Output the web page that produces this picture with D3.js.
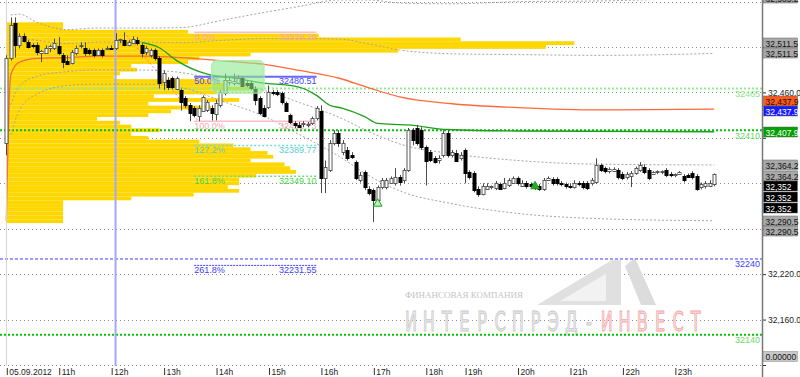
<!DOCTYPE html>
<html>
<head>
<meta charset="utf-8">
<title>Si 5 min, 05.09.2012</title>
<script src="https://cdn.jsdelivr.net/npm/d3@7/dist/d3.min.js"></script>
<style>
  body { margin: 0; background: #fff; }
  svg { display: block; font-family: "Liberation Sans", Arial, sans-serif; }
</style>
</head>
<body>
<svg id="chart" width="800" height="377"></svg>
<script>
// 5-minute bars, index 0 = 10:00 (evening clearing 18:45-19:00 has no bars)
const hourIdx = [0, 12, 24, 36, 48, 60, 72, 84, 96, 105, 117, 129, 141, 153];
const hourLabels = ['05.09.2012', '11h', '12h', '13h', '14h', '15h', '16h', '17h', '18h', '19h', '20h', '21h', '22h', '23h'];

const open = [32394,32506,32551,32522,32535,32526,32522,32522,32512,32513,
  32519,32518,32521,32509,32502,32498,32512,32522,32519,32516,
  32516,32509,32516,32517,32519,32518,32529,32529,32522,32526,
  32529,32522,32513,32509,32516,32505,32473,32476,32479,32465,
  32463,32452,32443,32439,32430,32436,32436,32440,32432,32443,
  32459,32473,32473,32473,32479,32472,32472,32465,32452,32440,
  32440,32460,32460,32459,32446,32430,32419,32417,32418,32417,
  32419,32426,32436,32347,32357,32393,32406,32381,32384,32377,
  32368,32344,32355,32333,32331,32318,32335,32335,32341,32340,
  32348,32344,32357,32410,32413,32410,32388,32381,32373,32370,
  32377,32406,32377,32380,32373,32384,32355,32353,32333,32327,
  32333,32335,32333,32339,32335,32337,32341,32347,32337,32340,
  32339,32336,32336,32332,32345,32345,32345,32340,32339,32337,
  32336,32340,32340,32340,32340,32341,32364,32360,32357,32357,
  32357,32352,32348,32349,32353,32357,32362,32357,32353,32355,
  32355,32357,32352,32351,32353,32349,32351,32353,32349,32335,
  32336,32337,32339];
const high = [32509,32559,32559,32538,32538,32529,32525,32526,32516,32522,
  32523,32531,32533,32512,32509,32516,32522,32526,32526,32518,
  32518,32518,32518,32521,32522,32538,32531,32539,32529,32534,
  32533,32525,32521,32518,32518,32508,32489,32480,32481,32481,
  32465,32455,32446,32442,32443,32456,32450,32443,32450,32463,
  32485,32479,32485,32483,32481,32475,32475,32468,32455,32443,
  32469,32463,32463,32461,32448,32432,32422,32421,32422,32421,
  32428,32442,32443,32370,32397,32410,32410,32397,32388,32381,
  32370,32355,32357,32336,32333,32337,32347,32347,32349,32360,
  32351,32360,32413,32413,32417,32414,32390,32384,32376,32377,
  32410,32410,32384,32384,32381,32386,32357,32356,32336,32340,
  32340,32337,32343,32341,32347,32347,32349,32349,32344,32343,
  32341,32339,32339,32347,32349,32348,32348,32343,32341,32340,
  32344,32343,32343,32343,32347,32373,32366,32362,32361,32361,
  32360,32355,32355,32356,32362,32368,32365,32360,32356,32357,
  32357,32360,32355,32353,32356,32352,32353,32356,32352,32341,
  32343,32344,32353];
const low = [32377,32502,32506,32518,32526,32518,32518,32509,32500,32512,
  32513,32516,32509,32492,32496,32497,32509,32518,32508,32509,
  32506,32508,32506,32516,32516,32516,32525,32521,32521,32525,
  32522,32506,32509,32506,32502,32465,32463,32463,32464,32463,
  32436,32439,32422,32427,32422,32434,32434,32423,32423,32440,
  32456,32469,32469,32471,32467,32467,32463,32443,32430,32427,
  32438,32456,32455,32444,32434,32418,32413,32413,32414,32414,
  32417,32423,32327,32327,32355,32390,32388,32377,32370,32372,
  32344,32341,32331,32324,32289,32315,32332,32332,32339,32337,
  32337,32340,32355,32390,32390,32384,32337,32368,32366,32366,
  32374,32374,32374,32368,32370,32340,32345,32328,32322,32324,
  32331,32332,32331,32331,32332,32335,32339,32337,32335,32333,
  32333,32331,32330,32330,32343,32337,32337,32336,32333,32333,
  32333,32336,32332,32331,32337,32339,32355,32353,32353,32355,
  32345,32344,32345,32335,32351,32355,32352,32344,32351,32352,
  32352,32348,32348,32348,32351,32341,32347,32345,32330,32332,
  32333,32335,32336];
const close = [32506,32549,32522,32534,32529,32519,32521,32513,32514,32519,
  32521,32525,32512,32500,32498,32513,32519,32523,32512,32512,
  32509,32516,32509,32518,32518,32529,32530,32522,32526,32531,
  32525,32512,32518,32516,32506,32472,32485,32467,32467,32479,
  32447,32443,32432,32430,32440,32454,32447,32434,32446,32460,
  32476,32476,32475,32479,32469,32469,32465,32450,32432,32430,
  32460,32459,32457,32447,32436,32421,32417,32415,32419,32418,
  32426,32439,32347,32361,32393,32406,32393,32393,32374,32374,
  32347,32351,32335,32328,32318,32335,32344,32344,32347,32348,
  32341,32357,32410,32397,32393,32388,32370,32370,32368,32373,
  32406,32377,32381,32370,32377,32353,32348,32331,32327,32337,
  32337,32336,32340,32333,32341,32344,32347,32340,32341,32336,
  32336,32333,32332,32344,32347,32340,32340,32339,32336,32336,
  32341,32339,32335,32333,32344,32364,32357,32356,32359,32359,
  32348,32347,32352,32353,32360,32364,32355,32347,32355,32356,
  32356,32351,32351,32352,32355,32344,32349,32348,32332,32339,
  32340,32341,32352];

// volume profile, 5-point rows (centre price) and relative volume
const profilePrice = d3.range(32550, 32285, -5);
const profileVol = [10,10,32,55,80,100,95,69,43,34,
  32,22,23,20,19,36,39,43,37,26,
  41,25,36,29,25,16,20,22,27,22,
  25,34,40,43,46,47,43,49,50,51,
  44,41,41,39,41,33,22,10,10,10,
  10,10,10];

// VWAP and its deviation bands
const vwapIdx = [0,1,3,7,14,21,31,40,49,59,67,76,83,90,102,117,136,162];
const vwapVal = [32290,32483,32500,32505,32506,32508,32508,32506,32502,32497,32489,32479,32466,32454,32445,32440,32437,32438];
const bandIdx = [1,3,7,14,21,31,40,49,59,67,76,83,90,102,117,136,162];
const bandUp1 = [32522.6,32531.7,32528.7,32524.5,32526.5,32526.5,32525.8,32528.4,32531.3,32531.2,32530.5,32524,32516,32511,32509.9,32508.9,32511.5];
const bandDn1 = [32443.4,32468.3,32481.3,32487.5,32489.5,32489.5,32486.2,32475.6,32462.7,32446.8,32427.5,32408,32392,32379,32370.1,32365.1,32364.2];
const bandUp2 = [32562.2,32563.4,32552.4,32543,32545,32545,32545.6,32554.8,32565.6,32573.4,32582,32582,32578,32577,32579.8,32580.8,32585.2];
const bandDn2 = [32403.8,32436.6,32457.6,32469,32471,32471,32466.4,32449.2,32428.4,32404.6,32376,32350,32330,32313,32300.2,32293.2,32290.5];

// moving average
const maIdx = [31,35,39,46,52,58,67,71,74,77,82,85,92,101,117,162];
const maVal = [32526,32519,32502,32484,32479,32473,32467,32456,32443,32439,32428,32419,32417,32411,32409,32408];

// fibonacci retracement
const fibLabels = ['0.0%', '50.0%', '100.0%', '127.2%', '161.8%', '261.8%'];
const fibValues = [32539.29, 32480.51, 32421.73, 32389.77, 32349.10, 32231.55];
const fibFrom = 43, fibTo = 71;
const fibTrendIdx = [27, 44];

// horizontal levels
const levelVals = [32465, 32410, 32240, 32140];

// grid
const gridVals = d3.range(32100, 32581, 60);

// right side tags
const tagVals = [32585.2, 32511.5, 32511.5, 32437.9, 32437.9, 32407.9, 32364.2, 32364.2, 32352, 32352, 32352, 32290.5, 32290.5];
const tagText = ['32,585.2','32,511.5','32,511.5','32,437.9','32,437.9','32,407.9','32,364.2','32,364.2','32,352','32,352','32,352','32,290.5','32,290.5'];

// drawn objects
const boxIdx = [47, 59];
const boxPrice = [32502, 32459];
const markerIdx = [85, 121];
const markerPrice = [32313, 32336];
const markIdx = 25;

const W = 800, H = 377;
const plotRight = 762, plotBottom = 366;

const svg = d3.select('#chart');
svg.append('rect').attr('width', W).attr('height', H).attr('fill', '#fff');

const x = d3.scaleLinear().domain([0, 162]).range([6.3, 714.2]);
const y = d3.scaleLinear().domain([32100, 32582]).range([365, 0]);
const vol = d3.scaleLinear().domain([0, 100]).range([0, 568]);

svg.append('defs').append('clipPath').attr('id', 'plot')
  .append('rect').attr('width', plotRight).attr('height', plotBottom);

const plot = svg.append('g').attr('clip-path', 'url(#plot)');
const py = v => Math.round(y(v)) + 0.5;

// grid lines
plot.selectAll('.grid')
  .data(gridVals)
  .enter()
  .append('line')
  .attr('x1', 0).attr('x2', plotRight)
  .attr('y1', d => py(d)).attr('y2', d => py(d))
  .attr('stroke', '#8c8c8c')
  .attr('stroke-dasharray', '1,3');

// watermark
const wm = plot.append('g');
wm.append('polygon').attr('points', '537,305 612,260 621,260 621,305').attr('fill', '#e0e0e0');
wm.append('polygon').attr('points', '560,301 606,274 606,301').attr('fill', '#f2f2f2');
wm.append('polygon').attr('points', '625,266 635,258 656,305 641,305').attr('fill', '#dcdcdc');
wm.append('text').attr('x', 405).attr('y', 298)
  .attr('font-family', '"Liberation Serif", serif').attr('font-size', 9)
  .attr('fill', '#c4c4c4').attr('textLength', 118).text('ФИНАНСОВАЯ КОМПАНИЯ');
const wmWord = 'ИНТЕРСПРЭД-ИНВЕСТ'.split('');
wm.selectAll('.wl')
  .data(wmWord)
  .enter()
  .append('text')
  .attr('transform', (d, i) => `translate(${411 + i * 17.8},331) scale(0.62,1)`)
  .attr('text-anchor', 'middle')
  .attr('font-family', '"DejaVu Sans", sans-serif')
  .attr('font-size', 26)
  .attr('fill', (d, i) => i > 10 ? '#fbe0e0' : '#ececec')
  .attr('stroke', (d, i) => i > 10 ? '#f2a9a9' : '#c9c9c9')
  .attr('stroke-width', 1)
  .text(d => d);

// volume profile
plot.selectAll('.vp')
  .data(profilePrice)
  .enter()
  .append('rect')
  .attr('x', x(0))
  .attr('y', d => y(d + 2.5))
  .attr('width', (d, i) => vol(profileVol[i]))
  .attr('height', y(32100) - y(32105))
  .attr('fill', '#ffd700');

// horizontal levels
const levelColor = ['#90ee90', '#00c400', '#3c3cff', '#00c400'];
const levelText = ['#88e888', '#66dd66', '#3c3cff', '#66dd66'];
const levelWidth = [2, 2, 1, 2];
const levelDash = ['2,2', '2,2', '3,2', '2,2'];
plot.selectAll('.lvl')
  .data(levelVals)
  .enter()
  .append('line')
  .attr('x1', 0).attr('x2', plotRight)
  .attr('y1', d => y(d)).attr('y2', d => y(d))
  .attr('stroke', (d, i) => levelColor[i])
  .attr('stroke-width', (d, i) => levelWidth[i])
  .attr('stroke-dasharray', (d, i) => levelDash[i]);
plot.selectAll('.lvlt')
  .data(levelVals)
  .enter()
  .append('text')
  .attr('x', 760)
  .attr('y', d => y(d) + 8.5)
  .attr('text-anchor', 'end')
  .attr('font-size', 9)
  .attr('fill', (d, i) => levelText[i])
  .text(d => d);

const line = d3.line()
  .x(d => x(d[0]))
  .y(d => y(d[1]))
  .curve(d3.curveMonotoneX);

// deviation bands
[bandUp2, bandUp1, bandDn1, bandDn2].forEach(band => {
  plot.append('path')
    .datum(bandIdx.map((d, i) => [d, band[i]]))
    .attr('d', line)
    .attr('fill', 'none')
    .attr('stroke', '#a4a4a4')
    .attr('stroke-dasharray', '2,2');
});

// fibonacci
const fibStroke = ['#ffbcc6', '#6666ff', '#ffbcc6', '#74dada', '#6ee06e', '#3c3cff'];
const fibInk = ['#f3a6b2', '#4444ff', '#f3a6b2', '#5ccccc', '#4cd04c', '#3c3cff'];
const fibWidth = [1.5, 2, 1.5, 1.5, 1.5, 1];
const fibDash = [null, null, null, '2,2', '2,2', '2,1'];
plot.append('line')
  .attr('x1', x(fibTrendIdx[0])).attr('y1', y(fibValues[0]))
  .attr('x2', x(fibTrendIdx[1])).attr('y2', y(fibValues[2]))
  .attr('stroke', '#ff7a7a')
  .attr('stroke-dasharray', '2,2');
plot.selectAll('.fib')
  .data(fibValues)
  .enter()
  .append('line')
  .attr('x1', x(fibFrom)).attr('x2', x(fibTo))
  .attr('y1', d => y(d)).attr('y2', d => y(d))
  .attr('stroke', (d, i) => fibStroke[i])
  .attr('stroke-width', (d, i) => fibWidth[i])
  .attr('stroke-dasharray', (d, i) => fibDash[i]);
plot.selectAll('.fibl')
  .data(fibValues)
  .enter()
  .append('text')
  .attr('x', x(fibFrom))
  .attr('y', d => y(d) + 7.5)
  .attr('font-size', 9)
  .attr('fill', (d, i) => fibInk[i])
  .text((d, i) => fibLabels[i]);
plot.selectAll('.fibv')
  .data(fibValues)
  .enter()
  .append('text')
  .attr('x', x(fibTo))
  .attr('y', d => y(d) + 7.5)
  .attr('text-anchor', 'end')
  .attr('font-size', 9)
  .attr('fill', (d, i) => fibInk[i])
  .text(d => d.toFixed(2));

// vwap and moving average
plot.append('path')
  .datum(vwapIdx.map((d, i) => [d, vwapVal[i]]))
  .attr('d', line)
  .attr('fill', 'none')
  .attr('stroke', '#ff6a3a')
  .attr('stroke-width', 1.3);
plot.append('path')
  .datum(maIdx.map((d, i) => [d, maVal[i]]))
  .attr('d', line)
  .attr('fill', 'none')
  .attr('stroke', '#1e9e1e')
  .attr('stroke-width', 1.3);

// session start and marked bar
plot.append('line')
  .attr('x1', Math.round(x(0)) + 0.5).attr('x2', Math.round(x(0)) + 0.5)
  .attr('y1', 0).attr('y2', plotBottom)
  .attr('stroke', '#d4d4d4');
plot.append('line')
  .attr('x1', x(markIdx)).attr('x2', x(markIdx))
  .attr('y1', 0).attr('y2', plotBottom)
  .attr('stroke', '#a6a6ff')
  .attr('stroke-width', 2);

// candles
const candles = open.map((o, i) => ({ i, o, h: high[i], l: low[i], c: close[i] }));
const cg = plot.append('g');
cg.selectAll('.wick')
  .data(candles)
  .enter()
  .append('line')
  .attr('x1', d => Math.round(x(d.i)) + 0.5)
  .attr('x2', d => Math.round(x(d.i)) + 0.5)
  .attr('y1', d => y(d.h))
  .attr('y2', d => y(d.l))
  .attr('stroke', '#4a4a4a');
cg.selectAll('.body')
  .data(candles)
  .enter()
  .append('rect')
  .attr('x', d => Math.round(x(d.i)) - 1)
  .attr('width', 3)
  .attr('y', d => Math.round(y(Math.max(d.o, d.c))) + 0.5)
  .attr('height', d => Math.max(1, Math.round(Math.abs(y(d.o) - y(d.c)))))
  .attr('fill', d => d.c >= d.o ? '#fff' : '#000')
  .attr('stroke', d => d.c >= d.o ? '#5a5a5a' : '#000');

// rectangle drawn on the chart
plot.append('rect')
  .attr('x', x(boxIdx[0]))
  .attr('y', y(boxPrice[0]))
  .attr('width', x(boxIdx[1]) - x(boxIdx[0]))
  .attr('height', y(boxPrice[1]) - y(boxPrice[0]))
  .attr('rx', 5)
  .attr('fill', '#8ee88e')
  .attr('fill-opacity', 0.6)
  .attr('stroke', '#a8eea8');

// signal markers
const tri = d3.symbol(d3.symbolTriangle).size(32);
plot.selectAll('.mk')
  .data(markerIdx)
  .enter()
  .append('path')
  .attr('d', tri)
  .attr('transform', (d, i) => `translate(${x(d)},${y(markerPrice[i])})`)
  .attr('fill', (d, i) => i === 0 ? '#b8f5b8' : '#22b022')
  .attr('stroke', '#22a022');

// price axis
const tagFill = ['#a8a8a8','#a8a8a8','#a8a8a8','#ff5a1e','#1a1aff','#00a000','#a8a8a8','#a8a8a8','#000','#000','#000','#a8a8a8','#a8a8a8'];
const tagInk = ['#111','#111','#111','#111','#fff','#fff','#111','#111','#fff','#fff','#fff','#111','#111'];
const tagShift = [0, -10, 0, -8.5, 2, 0, 0, 11, 12, 23, 34, 0, 10.5];
const tagY = tagVals.map((d, i) => Math.round(y(d) + tagShift[i]));

svg.append('line')
  .attr('x1', 762.5).attr('x2', 762.5)
  .attr('y1', 0).attr('y2', H)
  .attr('stroke', '#7a7a7a')
  .attr('stroke-width', 1.5);
const yAxis = svg.append('g')
  .attr('transform', 'translate(763,0)')
  .call(d3.axisRight(y).tickValues(gridVals).tickFormat(d3.format(',.1f')).tickSize(3).tickPadding(2));
yAxis.select('.domain').remove();
yAxis.selectAll('line').attr('stroke', '#333');
yAxis.selectAll('text')
  .attr('font-size', 8.5)
  .attr('fill', '#222')
  .attr('font-family', '"Liberation Sans", Arial, sans-serif')
  // labels sitting under a price tag are hidden by it
  .style('display', d => tagY.some(t => Math.abs(t - y(d)) < 6) || y(d) > 360 ? 'none' : null);

// time axis
const xAxis = svg.append('g')
  .attr('transform', `translate(0,${plotBottom})`)
  .call(d3.axisBottom(x).tickValues(hourIdx).tickFormat((d, i) => hourLabels[i]).tickSize(7));
xAxis.select('.domain').remove();
xAxis.selectAll('.tick line').attr('stroke', '#333').attr('transform', 'translate(0.5,2)');
xAxis.selectAll('text')
  .attr('text-anchor', 'start')
  .attr('x', 2.5)
  .attr('y', 3)
  .attr('font-size', 8.5)
  .attr('fill', '#222')
  .attr('font-family', '"Liberation Sans", Arial, sans-serif');

// price tags
const tags = svg.append('g');
tags.selectAll('.tg')
  .data(tagVals)
  .enter()
  .append('rect')
  .attr('x', 763.5)
  .attr('y', (d, i) => tagY[i] - 5)
  .attr('width', 34)
  .attr('height', 10)
  .attr('fill', (d, i) => tagFill[i])
  .attr('stroke', '#666')
  .attr('stroke-width', 0.5);
tags.selectAll('.tt')
  .data(tagVals)
  .enter()
  .append('text')
  .attr('x', 765.5)
  .attr('y', (d, i) => tagY[i] + 3.5)
  .attr('font-size', 8.5)
  .attr('fill', (d, i) => tagInk[i])
  .text((d, i) => tagText[i]);

// oscillator value tag
tags.append('rect')
  .attr('x', 763.5).attr('y', 351.5)
  .attr('width', 34).attr('height', 10)
  .attr('fill', '#c8c8c8')
  .attr('stroke', '#888')
  .attr('stroke-width', 0.5);
tags.append('text')
  .attr('x', 765.5).attr('y', 360)
  .attr('font-size', 8.5)
  .attr('fill', '#111')
  .text('0.00000');
</script>
</body>
</html>
